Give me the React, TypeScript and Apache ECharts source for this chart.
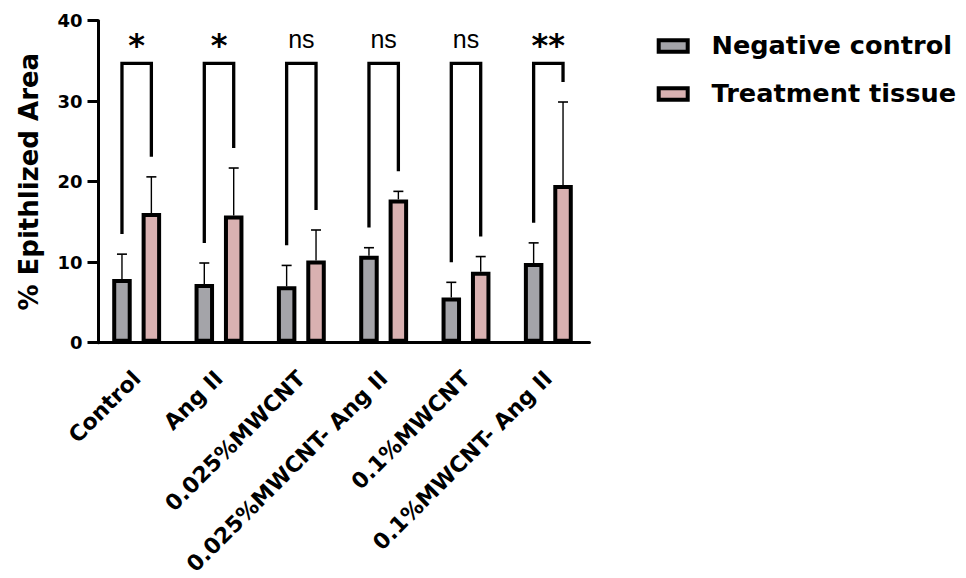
import React, { useEffect, useRef } from "react";
import * as echarts from "echarts";

const categories = [
  "Control",
  "Ang II",
  "0.025%MWCNT",
  "0.025%MWCNT- Ang II",
  "0.1%MWCNT",
  "0.1%MWCNT- Ang II",
];
const seriesNames = ["Negative control", "Treatment tissue"];
const negativeMean = [7.9, 7.3, 7.0, 10.8, 5.6, 9.9];
const treatmentMean = [16.1, 15.8, 10.2, 17.8, 8.8, 19.6];
const negativeSD = [3.1, 2.6, 2.6, 1.0, 1.9, 2.5];
const treatmentSD = [4.5, 5.9, 3.8, 1.0, 1.9, 10.3];
const significance = ["*", "*", "ns", "ns", "ns", "**"];
const yMin = 0;
const yMax = 40;
const yInterval = 10;
const bracketLevel = 34.7;
const bracketGap = 2.5;
const labelLevel = 37.6;

const seriesColors = ["#a4a4a9", "#d9b1b1"];
const BAR_W = 19.5;
const BAR_GAP_PX = 9.9;
const HALF = (BAR_W + BAR_GAP_PX) / 2;
const BOLD = "'DejaVu Sans', sans-serif";

export default function App() {
  const ref = useRef<HTMLDivElement>(null);
  useEffect(() => {
    if (!ref.current) return;
    const chart = echarts.init(ref.current, null, { renderer: "svg" });
    const means = [negativeMean, treatmentMean];
    const sds = [negativeSD, treatmentSD];

    const barSeries = seriesNames.map((name, s) => ({
      name,
      type: "bar",
      barWidth: BAR_W,
      barGap: `${(BAR_GAP_PX / BAR_W) * 100}%`,
      itemStyle: { color: seriesColors[s], borderColor: "#000", borderWidth: 4 },
      data: means[s],
      z: 2,
    }));

    const errorSeries = seriesNames.map((name, s) => ({
      name: name + " SD",
      type: "custom",
      z: 3,
      data: means[s].map((m, i) => [i, m, m + sds[s][i]]),
      renderItem: (params: any, api: any) => {
        const idx = api.value(0);
        const base = api.coord([idx, api.value(1)]);
        const top = api.coord([idx, api.value(2)]);
        const x = base[0] + (s === 0 ? -HALF : HALF);
        return {
          type: "group",
          children: [
            { type: "line", shape: { x1: x, y1: base[1], x2: x, y2: top[1] }, style: { stroke: "#000", lineWidth: 1.4 } },
            { type: "line", shape: { x1: x - 5, y1: top[1], x2: x + 5, y2: top[1] }, style: { stroke: "#000", lineWidth: 1.6 } },
          ],
        };
      },
    }));

    const bracketSeries = {
      name: "significance",
      type: "custom",
      z: 4,
      data: categories.map((_, i) => [
        i,
        negativeMean[i] + negativeSD[i] + bracketGap,
        treatmentMean[i] + treatmentSD[i] + bracketGap,
      ]),
      renderItem: (params: any, api: any) => {
        const idx = api.value(0);
        const left = api.coord([idx, api.value(1)]);
        const right = api.coord([idx, api.value(2)]);
        const top = api.coord([idx, bracketLevel]);
        const lab = api.coord([idx, labelLevel]);
        const cx = top[0];
        const sig = significance[idx];
        const isStar = sig.indexOf("*") >= 0;
        return {
          type: "group",
          children: [
            {
              type: "polyline",
              shape: {
                points: [
                  [cx - HALF, left[1]],
                  [cx - HALF, top[1]],
                  [cx + HALF, top[1]],
                  [cx + HALF, right[1]],
                ],
              },
              style: { stroke: "#000", lineWidth: 3.3, fill: "none", lineJoin: "miter" },
            },
            {
              type: "text",
              x: cx,
              y: lab[1] + (isStar ? 5 : -1),
              style: {
                text: sig,
                fill: "#000",
                align: "center",
                verticalAlign: "middle",
                fontFamily: isStar ? BOLD : "'Liberation Sans', Arial, sans-serif",
                fontWeight: isStar ? "bold" : "normal",
                fontSize: isStar ? 32 : 25,
              },
            },
          ],
        };
      },
    };

    const legendGraphics: any[] = [];
    seriesNames.forEach((name, i) => {
      const cy = 46 + 48 * i;
      legendGraphics.push({
        type: "rect",
        shape: { x: 658.7, y: cy - 5.75, width: 29, height: 11.5 },
        style: { fill: seriesColors[i], stroke: "#000", lineWidth: 4 },
      });
      legendGraphics.push({
        type: "text",
        x: 711.5,
        y: cy - 1,
        style: {
          text: name,
          fill: "#000",
          fontFamily: BOLD,
          fontWeight: "bold",
          fontSize: 25.6,
          verticalAlign: "middle",
          align: "left",
        },
      });
    });

    chart.setOption({
      animation: false,
      grid: { left: 95.5, top: 20.7, width: 494, height: 322 },
      xAxis: {
        type: "category",
        data: categories,
        axisLine: { lineStyle: { color: "#000", width: 3 } },
        axisTick: { alignWithLabel: true, length: 14, lineStyle: { color: "#000", width: 3 } },
        axisLabel: {
          interval: 0,
          rotate: 45,
          margin: 32,
          color: "#000",
          fontFamily: BOLD,
          fontWeight: "bold",
          fontSize: 22,
        },
      },
      yAxis: {
        type: "value",
        min: yMin,
        max: yMax,
        interval: yInterval,
        offset: -3,
        name: "% Epithlized Area",
        nameLocation: "middle",
        nameGap: 57,
        nameTextStyle: { color: "#000", fontFamily: BOLD, fontWeight: "bold", fontSize: 26 },
        axisLine: { show: true, lineStyle: { color: "#000", width: 3 } },
        axisTick: { show: true, length: 11, lineStyle: { color: "#000", width: 3 } },
        splitLine: { show: false },
        axisLabel: { color: "#000", fontFamily: BOLD, fontWeight: "bold", fontSize: 18, margin: 16 },
      },
      graphic: legendGraphics,
      series: [...barSeries, ...errorSeries, bracketSeries],
    });
    return () => chart.dispose();
  }, []);
  return (
    <div
      ref={ref}
      style={{ position: "fixed", left: 0, top: 0, width: 966, height: 578, background: "#fff" }}
    />
  );
}
